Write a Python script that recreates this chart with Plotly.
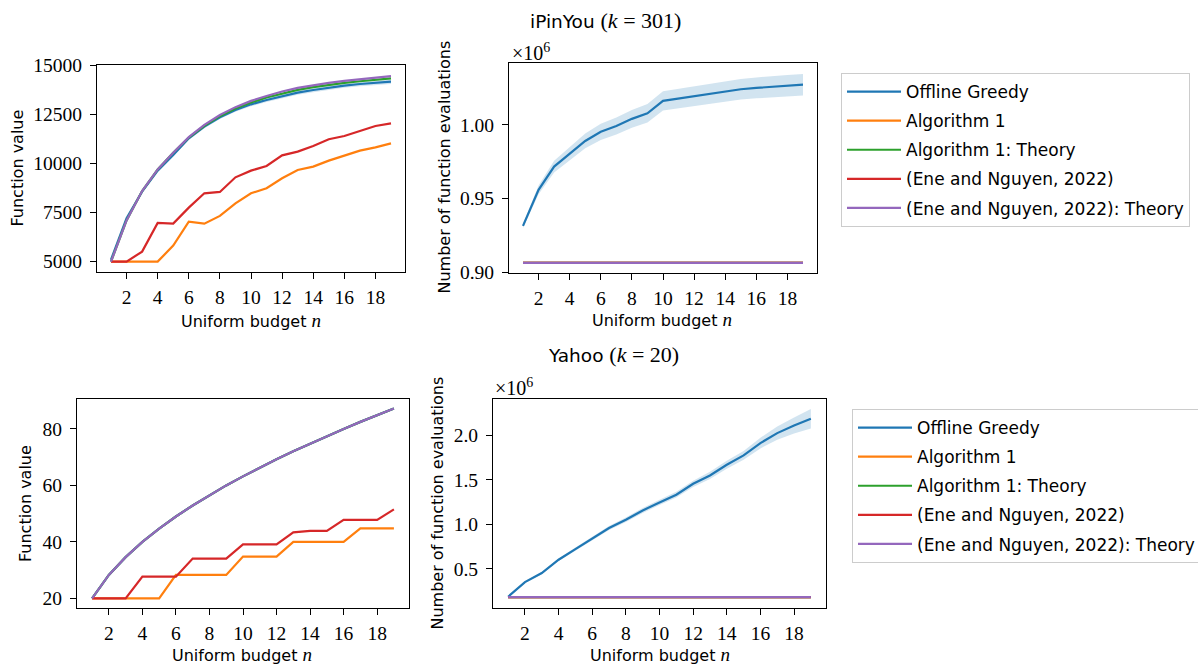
import plotly.graph_objects as go

# ---------------- data ----------------
n = list(range(1, 20))
xticks = [2, 4, 6, 8, 10, 12, 14, 16, 18]

# iPinYou (k = 301) : function value
ipy_greedy = [5100, 7210, 8570, 9640, 10440, 11290, 11885, 12360, 12735, 13024,
              13245, 13450, 13620, 13755, 13874, 13976, 14060, 14130, 14180]
ipy_greedy_sd = [20, 40, 50, 60, 70, 80, 85, 90, 95, 100,
                 100, 105, 105, 110, 110, 110, 115, 115, 120]
ipy_alg1 = [5000, 5000, 5000, 5000, 5816, 7040, 6938, 7330, 7975, 8485,
            8740, 9250, 9675, 9845, 10150, 10406, 10661, 10831, 11035]
ipy_alg1_theory = [5000, 7100, 8600, 9700, 10550, 11330, 11930, 12420, 12810, 13120,
                   13370, 13580, 13760, 13900, 14020, 14120, 14200, 14280, 14350]
ipy_ene = [5000, 5000, 5510, 6972, 6940, 7754, 8485, 8553, 9300, 9640,
           9880, 10423, 10610, 10900, 11240, 11410, 11664, 11920, 12055]
ipy_ene_theory = [5000, 7100, 8600, 9700, 10550, 11350, 11980, 12480, 12880, 13200,
                  13450, 13680, 13860, 14000, 14120, 14220, 14310, 14390, 14460]

# iPinYou : number of function evaluations (x 10^6)
ipy_eval_greedy = [0.9315, 0.9559, 0.9717, 0.9801, 0.9891, 0.9953, 0.9993, 1.0041, 1.0079, 1.0163,
                   1.0179, 1.0197, 1.0215, 1.0228, 1.0242, 1.0251, 1.0260, 1.0267, 1.0273]
ipy_eval_greedy_sd = [0.0015, 0.0030, 0.0040, 0.0045, 0.0050, 0.0055, 0.0058, 0.0060, 0.0062, 0.0065,
                      0.0066, 0.0067, 0.0068, 0.0069, 0.0070, 0.0071, 0.0072, 0.0072, 0.0073]
ipy_eval_online = [0.9064, 0.9064, 0.9064, 0.9064, 0.9064, 0.9064, 0.9064, 0.9064, 0.9064, 0.9064,
                   0.9064, 0.9064, 0.9064, 0.9064, 0.9064, 0.9064, 0.9064, 0.9064, 0.9064]

# Yahoo (k = 20) : function value
yh_theory = [20.0, 28.3, 34.6, 40.0, 44.7, 49.0, 52.9, 56.6, 60.0, 63.2,
             66.3, 69.3, 72.1, 74.8, 77.5, 80.0, 82.5, 84.9, 87.2]
yh_alg1 = [20.0, 20.0, 20.0, 20.0, 20.0, 28.3, 28.3, 28.3, 28.3, 34.8,
           34.8, 34.8, 40.0, 40.0, 40.0, 40.0, 44.8, 44.8, 44.8]
yh_ene = [20.0, 20.0, 20.0, 27.7, 27.7, 27.7, 34.1, 34.1, 34.1, 39.1,
          39.1, 39.1, 43.4, 43.9, 43.9, 47.8, 47.8, 47.8, 51.5]

# Yahoo : number of function evaluations (x 10^6)
yh_eval_greedy = [0.185, 0.350, 0.451, 0.601, 0.721, 0.838, 0.958, 1.051, 1.156, 1.246,
                  1.333, 1.456, 1.550, 1.670, 1.775, 1.914, 2.026, 2.113, 2.188]
yh_eval_greedy_sd = [0.005, 0.010, 0.012, 0.015, 0.018, 0.020, 0.022, 0.025, 0.028, 0.030,
                     0.032, 0.035, 0.040, 0.045, 0.050, 0.060, 0.075, 0.090, 0.110]
yh_eval_online = [0.181, 0.181, 0.181, 0.181, 0.181, 0.181, 0.181, 0.181, 0.181, 0.181,
                  0.181, 0.181, 0.181, 0.181, 0.181, 0.181, 0.181, 0.181, 0.181]

names = ["Offline Greedy", "Algorithm 1", "Algorithm 1: Theory",
         "(Ene and Nguyen, 2022)", "(Ene and Nguyen, 2022): Theory"]
colors = ["#1f77b4", "#ff7f0e", "#2ca02c", "#d62728", "#9467bd"]
BAND = "rgba(31,119,180,0.2)"

SANS = "DejaVu Sans"
SERIF = "Liberation Serif"
W, H = 1198, 664


def px_x(a, b):
    return [a / W, b / W]


def px_y(top, bottom):
    return [1 - bottom / H, 1 - top / H]


fig = go.Figure()


def band(xa, ya, mean, sd):
    lo = [m - s for m, s in zip(mean, sd)]
    hi = [m + s for m, s in zip(mean, sd)]
    fig.add_trace(go.Scatter(x=n, y=lo, mode="lines", line=dict(width=0),
                             showlegend=False, hoverinfo="skip", xaxis=xa, yaxis=ya))
    fig.add_trace(go.Scatter(x=n, y=hi, mode="lines", line=dict(width=0), fill="tonexty",
                             fillcolor=BAND, showlegend=False, hoverinfo="skip",
                             xaxis=xa, yaxis=ya))


def lines(xa, ya, series, legend=None):
    for i, (nm, col, ys) in enumerate(zip(names, colors, series)):
        fig.add_trace(go.Scatter(x=n, y=ys, mode="lines", name=nm,
                                 line=dict(color=col, width=2.2),
                                 showlegend=legend is not None,
                                 legend=legend if legend else "legend",
                                 legendgroup=(legend or "") + str(i),
                                 xaxis=xa, yaxis=ya))


# top-left
band("x", "y", ipy_greedy, ipy_greedy_sd)
lines("x", "y", [ipy_greedy, ipy_alg1, ipy_alg1_theory, ipy_ene, ipy_ene_theory], legend="legend")
# top-right
band("x2", "y2", ipy_eval_greedy, ipy_eval_greedy_sd)
lines("x2", "y2", [ipy_eval_greedy, ipy_eval_online, ipy_eval_online, ipy_eval_online, ipy_eval_online])
# bottom-left
lines("x3", "y3", [yh_theory, yh_alg1, yh_theory, yh_ene, yh_theory], legend="legend2")
# bottom-right
band("x4", "y4", yh_eval_greedy, yh_eval_greedy_sd)
lines("x4", "y4", [yh_eval_greedy, yh_eval_online, yh_eval_online, yh_eval_online, yh_eval_online])


def axis(domain, rng, anchor, tickvals=None, tickformat=None, standoff=0):
    d = dict(domain=domain, range=rng, anchor=anchor, showline=True, mirror=True,
             linecolor="black", linewidth=1, ticks="outside", ticklen=6, tickwidth=1,
             tickcolor="black", showgrid=False, zeroline=False, automargin=False,
             ticklabelstandoff=standoff,
             tickfont=dict(family=SERIF, size=19.5, color="black"))
    if tickvals is not None:
        d["tickvals"] = tickvals
    if tickformat:
        d["tickformat"] = tickformat
    return d


LEG_FONT = dict(family=SANS, size=17, color="black")
fig.update_layout(
    width=W, height=H,
    margin=dict(l=0, r=0, t=0, b=0, autoexpand=False),
    paper_bgcolor="white", plot_bgcolor="white",
    font=dict(family=SANS, size=16, color="black"),
    xaxis=axis(px_x(97, 405), [0.1, 19.9], "y", xticks, standoff=2),
    yaxis=axis(px_y(65, 272), [4470, 15030], "x", [5000, 7500, 10000, 12500, 15000], "d", 4),
    xaxis2=axis(px_x(509, 817), [0.1, 19.9], "y2", xticks, standoff=2),
    yaxis2=axis(px_y(63, 273), [0.8995, 1.042], "x2", [0.90, 0.95, 1.00], ".2f", 4),
    xaxis3=axis(px_x(77, 409), [0.1, 19.9], "y3", xticks, standoff=2),
    yaxis3=axis(px_y(399, 608), [16.6, 90.6], "x3", [20, 40, 60, 80], "d", 4),
    xaxis4=axis(px_x(493, 826), [0.1, 19.9], "y4", xticks, standoff=2),
    yaxis4=axis(px_y(399, 608), [0.058, 2.41], "x4", [0.5, 1.0, 1.5, 2.0], ".1f", 4),
    legend=dict(x=841 / W, y=1 - 73 / H, xanchor="left", yanchor="top",
                bordercolor="#cccccc", borderwidth=1, bgcolor="white", itemwidth=54,
                font=LEG_FONT, tracegroupgap=4),
    legend2=dict(x=852 / W, y=1 - 409 / H, xanchor="left", yanchor="top",
                 bordercolor="#cccccc", borderwidth=1, bgcolor="white", itemwidth=54,
                 font=LEG_FONT, tracegroupgap=4),
)

xlab = "Uniform budget <span style='font-family:Liberation Serif;font-size:19px'><i>n</i></span>"
ann = [
    # x-axis titles
    dict(x=251, y=320, text=xlab),
    dict(x=662, y=319, text=xlab),
    dict(x=242, y=654, text=xlab),
    dict(x=660, y=654, text=xlab),
    # y-axis titles
    dict(x=16.5, y=168, text="Function value", textangle=-90),
    dict(x=443.5, y=167, text="Number of function evaluations", textangle=-90),
    dict(x=25, y=504, text="Function value", textangle=-90),
    dict(x=436.5, y=503, text="Number of function evaluations", textangle=-90),
    # titles
    dict(x=605, y=20, size=18.5,
         text="iPinYou <span style='font-family:Liberation Serif;font-size:22px'>(<i>k</i> = 301)</span>"),
    dict(x=614, y=354, size=18.5,
         text="Yahoo <span style='font-family:Liberation Serif;font-size:22px'>(<i>k</i> = 20)</span>"),
]
annotations = []
for a in ann:
    a2 = dict(xref="paper", yref="paper", x=a["x"] / W, y=1 - a["y"] / H,
              xanchor="center", yanchor="middle", showarrow=False, text=a["text"],
              font=dict(family=SANS, size=a.get("size", 16), color="black"))
    if "textangle" in a:
        a2["textangle"] = a["textangle"]
    annotations.append(a2)
for (x0, y0) in [(510, 52), (493, 387)]:
    annotations.append(dict(xref="paper", yref="paper", x=x0 / W, y=1 - y0 / H,
                            xanchor="left", yanchor="middle", showarrow=False,
                            text="×10<sup>6</sup>",
                            font=dict(family=SERIF, size=20, color="black")))
fig.update_layout(annotations=annotations)

fig.write_html("out.html", config={"displayModeBar": False},
               post_script="document.body.style.margin='0';document.body.style.overflow='hidden';")
